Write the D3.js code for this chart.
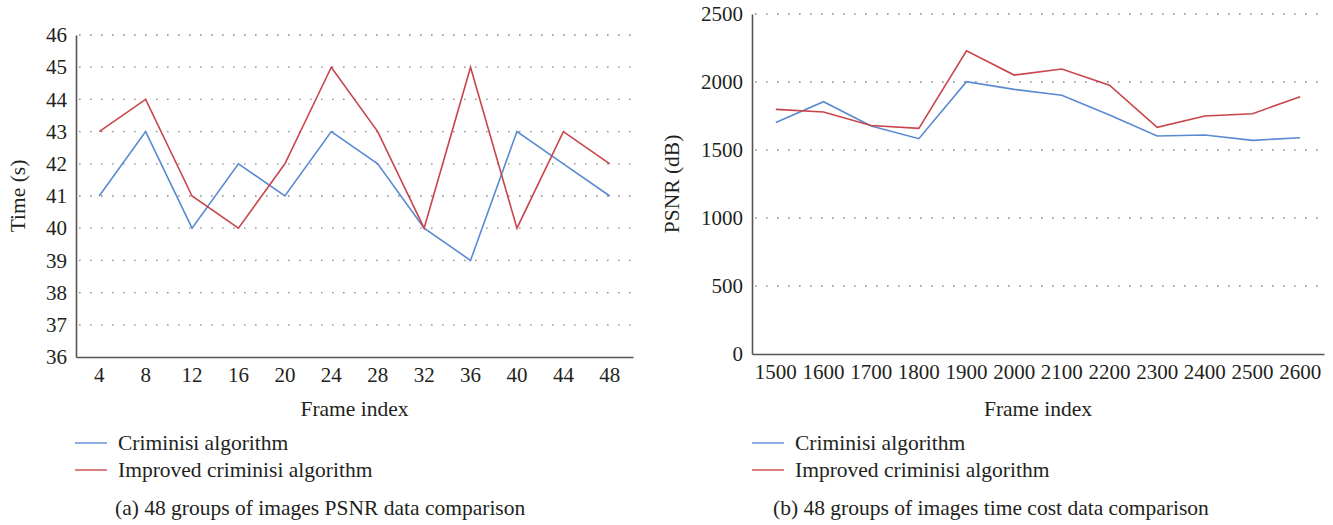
<!DOCTYPE html>
<html>
<head>
<meta charset="utf-8">
<script src="https://cdn.jsdelivr.net/npm/d3@7"></script>
<style>
  html, body { margin: 0; padding: 0; background: #fff; }
  svg text { font-family: "Liberation Serif", "DejaVu Serif", serif; fill: #231f20; }
</style>
</head>
<body>
<svg id="chart" width="1333" height="525"></svg>
<script>
// ---------- Data ----------
const framesA = ["4", "8", "12", "16", "20", "24", "28", "32", "36", "40", "44", "48"];
const criminisiA = [41, 43, 40, 42, 41, 43, 42, 40, 39, 43, 42, 41];
const improvedA  = [43, 44, 41, 40, 42, 45, 43, 40, 45, 40, 43, 42];
const yTicksA = [36, 37, 38, 39, 40, 41, 42, 43, 44, 45, 46];

const framesB = ["1500", "1600", "1700", "1800", "1900", "2000", "2100", "2200", "2300", "2400", "2500", "2600"];
const criminisiB = [1703, 1855, 1676, 1583, 2002, 1946, 1902, 1757, 1603, 1610, 1571, 1590];
const improvedB  = [1799, 1779, 1680, 1659, 2230, 2051, 2096, 1976, 1667, 1750, 1767, 1892];
const yTicksB = [0, 500, 1000, 1500, 2000, 2500];

const seriesNames = ["Criminisi algorithm", "Improved criminisi algorithm"];
const seriesColors = ["#5a8ad2", "#c8464a"];

const svg = d3.select("#chart");

function panel(cfg) {
  const g = svg.append("g");
  const x = d3.scaleBand().domain(cfg.cats).range([cfg.x0, cfg.x1]);
  const y = d3.scaleLinear().domain(cfg.yDomain).range([cfg.yBottom, cfg.yTop]);

  // gridlines
  g.append("g").selectAll("line").data(cfg.yTicks.filter(t => t !== cfg.yDomain[0]))
    .join("line")
    .attr("x1", cfg.x0 + 3).attr("x2", cfg.x1)
    .attr("y1", d => y(d)).attr("y2", d => y(d))
    .attr("stroke", "#8a8a8a").attr("stroke-width", 1.3)
    .attr("stroke-dasharray", "1.6,9.4");

  // y axis
  const yAxis = d3.axisLeft(y).tickValues(cfg.yTicks).tickFormat(d3.format("d")).tickSize(0).tickPadding(9);
  const ya = g.append("g").attr("transform", `translate(${cfg.x0},0)`).call(yAxis);
  ya.select(".domain").attr("stroke", "#555").attr("stroke-width", 1.6);
  ya.selectAll("text").attr("font-size", 21);

  // x axis
  const xAxis = d3.axisBottom(x).tickSize(0).tickPadding(10);
  const xa = g.append("g").attr("transform", `translate(0,${cfg.yBottom})`).call(xAxis);
  xa.select(".domain").attr("stroke", "#555").attr("stroke-width", 1.6);
  xa.selectAll("text").attr("font-size", 21);

  // lines
  const line = d3.line().x((d, i) => x(cfg.cats[i]) + x.bandwidth() / 2).y(d => y(d));
  cfg.series.forEach((s, k) => {
    g.append("path").datum(s).attr("d", line)
      .attr("fill", "none").attr("stroke", seriesColors[k]).attr("stroke-width", 1.6);
  });

  // axis titles
  g.append("text").attr("x", (cfg.x0 + cfg.x1) / 2).attr("y", 416)
    .attr("text-anchor", "middle").attr("font-size", 21.5).text("Frame index");
  g.append("text")
    .attr("transform", `translate(${cfg.yTitleX},${(cfg.yTop + cfg.yBottom) / 2}) rotate(-90)`)
    .attr("text-anchor", "middle").attr("font-size", 21.5).text(cfg.yTitle);

  // legend
  seriesNames.forEach((n, k) => {
    const ly = 443 + k * 27;
    g.append("line").attr("x1", cfg.legX).attr("x2", cfg.legX + 32)
      .attr("y1", ly).attr("y2", ly)
      .attr("stroke", seriesColors[k]).attr("stroke-width", 1.6).attr("opacity", 0.85);
    g.append("text").attr("x", cfg.legX + 43).attr("y", ly + 7)
      .attr("font-size", 21.5).text(n);
  });

  // caption
  g.append("text").attr("x", cfg.capX).attr("y", 515).attr("font-size", 21.5).text(cfg.caption);
}

panel({
  cats: framesA, series: [criminisiA, improvedA], yDomain: [36, 46], yTicks: yTicksA,
  x0: 76, x1: 633, yTop: 35, yBottom: 357, yTitle: "Time (s)", yTitleX: 25,
  legX: 75, capX: 115, caption: "(a) 48 groups of images PSNR data comparison"
});
panel({
  cats: framesB, series: [criminisiB, improvedB], yDomain: [0, 2500], yTicks: yTicksB,
  x0: 752, x1: 1324, yTop: 14, yBottom: 354, yTitle: "PSNR (dB)", yTitleX: 679,
  legX: 752, capX: 773, caption: "(b) 48 groups of images time cost data comparison"
});
</script>
</body>
</html>
